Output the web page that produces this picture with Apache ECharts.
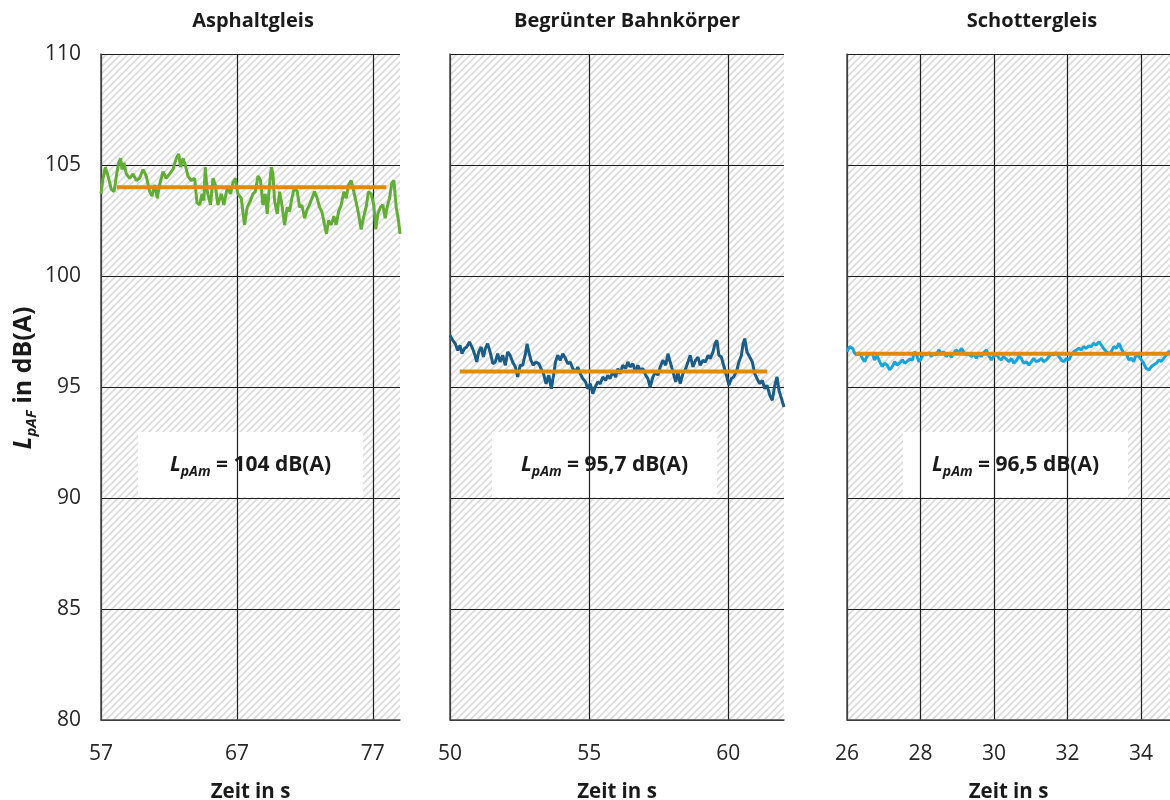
<!DOCTYPE html>
<html>
<head>
<meta charset="utf-8">
<script src="https://cdn.jsdelivr.net/npm/echarts@6/dist/echarts.min.js"></script>
<style>
  html, body { margin: 0; padding: 0; background: #ffffff; }
  #chart { width: 1170px; height: 800px; }
</style>
</head>
<body>
<div id="chart"></div>
<script>
// Panel titles and mean levels
const panelTitles = ['Asphaltgleis', 'Begrünter Bahnkörper', 'Schottergleis'];
const meanLevels = [104, 95.7, 96.5];
const meanTexts = ['104', '95,7', '96,5'];
const meanStart = [58.15, 50.35, 26.25];
const meanEnd = [78.0, 61.4, 35.8];

// Axis ranges (time in s), level axis in dB(A)
const timeMin = [57, 50, 26];
const timeMax = [79, 62, 34.79];
const timeStep = [10, 5, 2];
const levelMin = 80, levelMax = 110, levelStep = 5;

// Asphaltgleis: LpAF over time
const asphaltTime = [57.0, 57.15, 57.32, 57.52, 57.76, 57.96, 58.13, 58.3, 58.45, 58.54, 58.69, 58.86, 59.11, 59.35, 59.6, 59.84, 60.09, 60.33, 60.58, 60.75, 60.95, 61.14, 61.31, 61.56, 61.8, 62.05, 62.29, 62.54, 62.71, 62.86, 63.03, 63.2, 63.4, 63.64, 63.89, 64.06, 64.26, 64.43, 64.57, 64.67, 64.82, 65.06, 65.24, 65.41, 65.6, 65.85, 66.04, 66.29, 66.53, 66.71, 66.88, 67.07, 67.32, 67.56, 67.76,
  68.0, 68.18, 68.35, 68.55, 68.74, 68.91, 69.08, 69.23, 69.4, 69.53, 69.65, 69.77, 69.97, 70.14, 70.31, 70.51, 70.7, 70.87, 71.04, 71.24, 71.44, 71.61, 71.78, 71.98, 72.17, 72.34, 72.52, 72.71, 72.91, 73.08, 73.25, 73.45, 73.59, 73.74, 73.94, 74.13, 74.3, 74.48, 74.67, 74.87, 75.04, 75.21, 75.41, 75.6, 75.78, 75.95, 76.14, 76.34, 76.51, 76.68, 76.88, 77.07, 77.22, 77.37, 77.56, 77.74, 77.91, 78.05, 78.23, 78.4, 78.55, 78.72, 78.89, 79.0];
const asphaltLevel = [103.7, 104.4, 104.9, 104.5, 103.9, 103.8, 104.5, 105.1, 105.3, 104.8, 105.1, 104.6, 104.4, 104.6, 104.3, 104.4, 104.8, 104.5, 103.8, 103.6, 104.1, 103.5, 104.1, 104.7, 104.4, 104.6, 104.8, 105.3, 105.5, 104.9, 105.3, 105.0, 104.5, 104.3, 104.4, 103.3, 103.2, 103.7, 103.4, 104.9, 103.8, 103.2, 104.4, 104.1, 103.2, 103.7, 103.2, 104.0, 103.7, 104.2, 104.4, 103.7, 103.5, 102.3, 103.1,
  103.4, 103.7, 103.8, 104.5, 104.3, 103.2, 103.7, 102.8, 104.1, 104.9, 104.6, 103.4, 102.8, 103.8, 103.2, 102.3, 103.1, 102.9, 103.5, 104.0, 103.8, 103.1, 103.2, 102.6, 103.0, 103.2, 103.5, 103.8, 103.5, 103.1, 102.9, 102.3, 101.9, 102.5, 102.3, 102.7, 102.3, 102.9, 103.2, 103.8, 103.5, 104.1, 104.3, 103.8, 103.3, 102.8, 102.1, 102.7, 103.1, 103.8, 103.7, 103.2, 102.1, 102.8, 103.1, 103.2, 102.6, 103.1, 103.5, 104.2, 104.3, 103.1, 102.5, 101.9];

// Begrünter Bahnkörper: LpAF over time
const greenTime = [50.0, 50.1, 50.19, 50.28, 50.36, 50.43, 50.52, 50.6, 50.7, 50.79, 50.88, 50.96, 51.03, 51.12, 51.2, 51.27, 51.35, 51.44, 51.54, 51.63, 51.71, 51.8, 51.89, 51.99, 52.07, 52.16, 52.25, 52.35, 52.43, 52.52, 52.61, 52.71, 52.77, 52.83, 52.91, 52.99, 53.09, 53.19, 53.27, 53.36, 53.45, 53.55, 53.64, 53.72, 53.79, 53.87, 53.96, 54.05, 54.15, 54.23, 54.32, 54.41, 54.51, 54.59, 54.68, 54.77, 54.87, 54.95,
  55.04, 55.13, 55.22, 55.31, 55.4, 55.49, 55.59, 55.67, 55.75, 55.85, 55.95, 56.03, 56.11, 56.21, 56.31, 56.39, 56.47, 56.57, 56.67, 56.75, 56.83, 56.93, 57.03, 57.11, 57.19, 57.29, 57.39, 57.47, 57.55, 57.65, 57.75, 57.83, 57.91, 58.01, 58.11, 58.19, 58.27, 58.37, 58.47, 58.55, 58.63, 58.73, 58.82, 58.91, 58.99, 59.09, 59.18, 59.27, 59.35, 59.45, 59.52, 59.59, 59.66, 59.75, 59.83, 59.93,
  60.02, 60.11, 60.19, 60.29, 60.38, 60.47, 60.53, 60.59, 60.67, 60.77, 60.86, 60.95, 61.03, 61.13, 61.22, 61.31, 61.39, 61.49, 61.58, 61.67, 61.75, 61.82, 61.91, 62.0];
const greenLevel = [97.33, 97.1, 96.95, 96.65, 96.88, 96.5, 96.73, 96.8, 97.03, 96.8, 96.5, 96.13, 96.58, 96.8, 96.35, 96.73, 96.95, 96.58, 96.05, 96.13, 96.5, 96.13, 96.43, 95.98, 96.58, 96.43, 96.13, 95.9, 95.45, 95.98, 95.98, 96.5, 96.95, 96.58, 96.2, 95.98, 96.13, 96.05, 95.83, 95.6, 95.15, 95.53, 94.92, 95.53, 96.13, 96.43, 96.2, 96.5, 96.28, 96.05, 96.13, 95.83, 95.68, 95.9, 95.6, 95.38, 95.23, 94.92,
  95.15, 94.7, 95.0, 95.23, 95.15, 95.45, 95.3, 95.53, 95.38, 95.68, 95.45, 95.83, 95.6, 95.98, 95.83, 96.13, 95.9, 96.05, 95.68, 95.98, 95.75, 95.83, 95.53, 95.38, 95.0, 95.45, 95.68, 95.53, 95.9, 96.2, 95.98, 96.5, 96.13, 95.68, 95.23, 95.68, 95.15, 95.6, 95.83, 96.13, 96.43, 95.9, 96.2, 96.35, 95.98, 96.2, 96.13, 96.43, 96.28, 96.58, 96.95, 97.1, 96.43, 96.35, 95.98, 95.53,
  95.08, 95.38, 95.45, 95.68, 96.13, 96.43, 96.95, 97.18, 96.58, 96.35, 96.13, 95.6, 95.38, 95.15, 95.3, 94.92, 95.08, 94.62, 94.4, 95.08, 95.45, 94.85, 94.47, 94.1];

// Schottergleis: LpAF over time
const ballastTime = [26.0, 26.07, 26.15, 26.21, 26.27, 26.34, 26.42, 26.48, 26.54, 26.62, 26.69, 26.75, 26.82, 26.89, 26.96, 27.02, 27.09, 27.16, 27.23, 27.3, 27.36, 27.43, 27.51, 27.57, 27.63, 27.71, 27.78, 27.84, 27.89, 27.96,
  28.02, 28.09, 28.16, 28.23, 28.29, 28.36, 28.43, 28.5, 28.57, 28.63, 28.7, 28.78, 28.84, 28.9, 28.97, 29.05, 29.11, 29.17, 29.25, 29.32, 29.38, 29.45, 29.52, 29.59, 29.65, 29.72, 29.79, 29.86, 29.93, 29.99,
  30.06, 30.14, 30.2, 30.26, 30.34, 30.41, 30.47, 30.54, 30.61, 30.68, 30.74, 30.81, 30.88, 30.95, 31.02, 31.08, 31.15, 31.22, 31.29, 31.35, 31.42, 31.5, 31.56, 31.62, 31.7, 31.77, 31.83, 31.9, 31.97,
  32.04, 32.1, 32.17, 32.24, 32.31, 32.38, 32.44, 32.51, 32.58, 32.65, 32.71, 32.78, 32.86, 32.92, 32.98, 33.06, 33.13, 33.19, 33.26, 33.33, 33.4, 33.46, 33.53, 33.6, 33.67, 33.74, 33.8, 33.87, 33.95,
  34.01, 34.07, 34.14, 34.22, 34.28, 34.34, 34.42, 34.49, 34.55, 34.62, 34.69, 34.76, 34.85];
const ballastLevel = [96.59, 96.82, 96.74, 96.52, 96.44, 96.55, 96.29, 96.14, 96.37, 96.52, 96.49, 96.22, 96.4, 96.14, 95.92, 96.07, 95.99, 95.77, 95.92, 96.14, 95.99, 96.07, 96.22, 96.07, 96.14, 96.25, 96.22, 96.59, 96.44, 96.14,
  96.29, 96.52, 96.44, 96.55, 96.37, 96.52, 96.44, 96.67, 96.49, 96.59, 96.37, 96.52, 96.34, 96.52, 96.67, 96.52, 96.74, 96.59, 96.44, 96.52, 96.37, 96.49, 96.29, 96.52, 96.37, 96.55, 96.67, 96.4, 96.22, 96.37,
  96.49, 96.29, 96.22, 96.37, 96.25, 96.14, 96.29, 96.07, 96.19, 96.4, 96.29, 96.07, 96.14, 95.99, 96.14, 96.29, 96.14, 96.19, 96.29, 96.14, 96.22, 96.37, 96.52, 96.44, 96.55, 96.37, 96.22, 96.14, 96.29,
  96.22, 96.44, 96.59, 96.67, 96.74, 96.67, 96.82, 96.74, 96.85, 96.82, 96.97, 96.89, 97.04, 96.89, 96.74, 96.59, 96.49, 96.59, 96.82, 96.74, 96.97, 96.74, 96.52, 96.49, 96.22, 96.29, 96.14, 96.44, 96.37,
  96.22, 96.07, 95.84, 95.77, 95.92, 95.99, 96.07, 96.22, 96.14, 96.29, 96.44, 96.59, 96.55];

const traceTimes = [asphaltTime, greenTime, ballastTime];
const traceLevels = [asphaltLevel, greenLevel, ballastLevel];
const traceColors = ['#62ad36', '#1b5d86', '#1ba3db'];
const meanColor = '#e28a0c';

// Plot areas
const gridLeft = [101, 450, 847];
const gridWidth = [299, 334, 323];
const gridTop = 54, gridHeight = 666;
const boxLeft = [138, 492, 903];
const titleCenter = [248, 622, 1027];

const FONT = '"Open Sans", "DejaVu Sans", sans-serif';
const INK = '#1a1a1a';

// Diagonal hatch tile for the plot backgrounds
function hatchTile() {
  const c = document.createElement('canvas');
  c.width = 7; c.height = 7;
  const g = c.getContext('2d');
  g.fillStyle = '#ffffff';
  g.fillRect(0, 0, 7, 7);
  g.strokeStyle = '#dcdcdc';
  g.lineWidth = 1.7;
  g.beginPath();
  g.moveTo(-2, 9); g.lineTo(9, -2);
  g.moveTo(-2, 2); g.lineTo(2, -2);
  g.moveTo(5, 9); g.lineTo(9, 5);
  g.stroke();
  return c;
}
const hatch = { image: hatchTile(), repeat: 'repeat' };

const zip = (ts, vs) => ts.map((t, i) => [t, vs[i]]);

const grids = [], xAxes = [], yAxes = [], series = [], titles = [], graphics = [];

for (let i = 0; i < 3; i++) {
  grids.push({
    left: gridLeft[i], top: gridTop, width: gridWidth[i], height: gridHeight,
    outerBoundsMode: 'none', containLabel: false,
    show: true, backgroundColor: hatch, borderWidth: 0
  });
  xAxes.push({
    type: 'value', gridIndex: i,
    min: timeMin[i], max: timeMax[i], interval: timeStep[i],
    name: 'Zeit in s', nameLocation: 'middle', nameGap: 62,
    nameTextStyle: { fontFamily: FONT, fontSize: 20.5, fontWeight: 'bold', color: INK },
    axisLine: { show: true, onZero: false, lineStyle: { color: '#4a4a4a', width: 1.5 } },
    axisTick: { show: false },
    axisLabel: { fontFamily: FONT, fontSize: 21, color: '#262626', margin: 24, showMaxLabel: false },
    splitLine: { show: true, showMaxLine: false, lineStyle: { color: '#1e1e1e', width: 1.2 } }
  });
  yAxes.push({
    type: 'value', gridIndex: i,
    min: levelMin, max: levelMax, interval: levelStep,
    name: i === 0 ? '{i|L}{s|pAF}{b| in dB(A)}' : '',
    nameLocation: 'middle', nameRotate: 90, nameGap: 62,
    nameTextStyle: {
      color: INK,
      padding: [0, 0, 0, 18],
      rich: {
        i: { fontFamily: FONT, fontSize: 25, fontStyle: 'italic', fontWeight: 'bold', lineHeight: 30, color: INK },
        s: { fontFamily: FONT, fontSize: 15, fontStyle: 'italic', fontWeight: 'bold', lineHeight: 15, verticalAlign: 'bottom', color: INK },
        b: { fontFamily: FONT, fontSize: 25, fontWeight: 'bold', lineHeight: 30, color: INK }
      }
    },
    axisLine: { show: true, lineStyle: { color: '#4a4a4a', width: 1.5 } },
    axisTick: { show: false },
    axisLabel: { show: i === 0, fontFamily: FONT, fontSize: 21, color: '#262626', margin: 20 },
    splitLine: { show: true, lineStyle: { color: '#1e1e1e', width: 1.2 } }
  });
  series.push({
    type: 'line', xAxisIndex: i, yAxisIndex: i,
    data: zip(traceTimes[i], traceLevels[i]),
    showSymbol: false, symbol: 'none', clip: true,
    lineStyle: { color: traceColors[i], width: 3 },
    z: 3
  });
  series.push({
    type: 'line', xAxisIndex: i, yAxisIndex: i,
    data: [[meanStart[i], meanLevels[i]], [meanEnd[i], meanLevels[i]]],
    showSymbol: false, symbol: 'none', clip: true,
    lineStyle: { color: meanColor, width: 4 },
    z: 4
  });
  titles.push({
    text: panelTitles[i],
    left: titleCenter[i], top: 6, textAlign: 'center',
    textStyle: { fontFamily: FONT, fontSize: 20, fontWeight: 'bold', color: INK }
  });
  graphics.push({
    type: 'group', left: boxLeft[i], top: 432,
    children: [
      { type: 'rect', shape: { x: 0, y: 0, width: 225, height: 65 }, style: { fill: '#ffffff' } },
      {
        type: 'text', x: 112.5, y: 33,
        style: {
          text: '{i|L}{s|pAm}{b| = ' + meanTexts[i] + ' dB(A)}',
          align: 'center', verticalAlign: 'middle',
          rich: {
            i: { fontFamily: FONT, fontSize: 21, fontStyle: 'italic', fontWeight: 'bold', lineHeight: 28, fill: INK },
            s: { fontFamily: FONT, fontSize: 14, fontStyle: 'italic', fontWeight: 'bold', lineHeight: 14, verticalAlign: 'bottom', fill: INK },
            b: { fontFamily: FONT, fontSize: 21, fontWeight: 'bold', lineHeight: 28, fill: INK }
          }
        }
      }
    ]
  });
}

const chart = echarts.init(document.getElementById('chart'), null, { renderer: 'canvas' });
chart.setOption({
  backgroundColor: '#ffffff',
  animation: false,
  title: titles,
  grid: grids,
  xAxis: xAxes,
  yAxis: yAxes,
  series: series,
  graphic: graphics
});
</script>
</body>
</html>
